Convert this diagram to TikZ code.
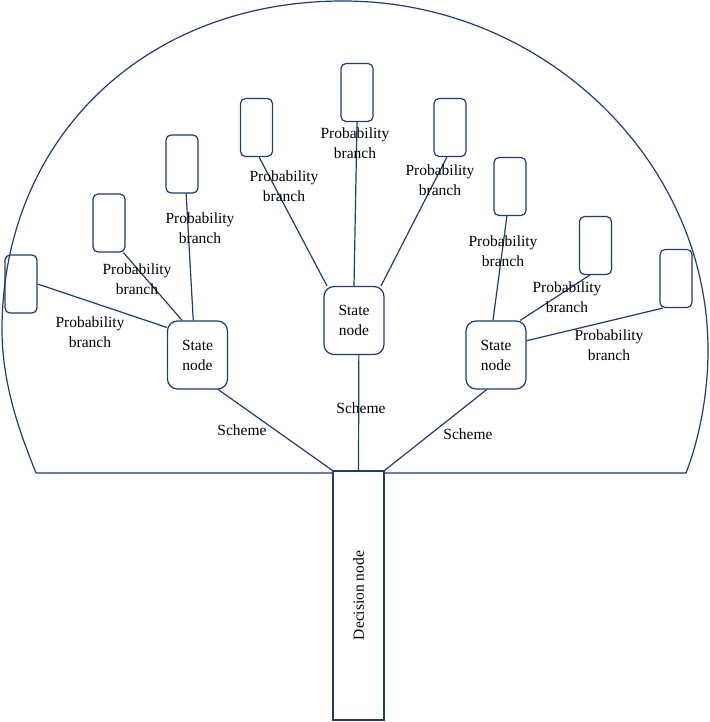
\documentclass[tikz,border=0pt]{standalone}
\usepackage{fontspec}
\setmainfont{Liberation Serif}
\definecolor{treeblue}{RGB}{30,58,120}
\begin{document}
\begin{tikzpicture}[x=1pt, y=-1pt, line width=1.2pt, draw=treeblue,
  leaf/.style={draw=treeblue, rounded corners=5pt, minimum width=32pt, minimum height=58pt, inner sep=0pt},
  state/.style={draw=treeblue, rounded corners=10pt, minimum width=60pt, minimum height=68pt, align=center, inner sep=0pt},
  lbl/.style={align=center, inner sep=0pt, font=\fontsize{15.5}{20}\selectfont}]
\useasboundingbox (0,0) rectangle (709,722);
% outer dome
\draw[treeblue] (36,473) .. controls (25,445) and (2,390) .. (2,330)
  .. controls (2,140) and (143,1) .. (343,1)
  .. controls (543,1) and (708,160) .. (708,350)
  .. controls (708,400) and (697,445) .. (686,473) -- cycle;
% decision and state nodes
\node[draw=treeblue, fill=white, minimum width=51pt, minimum height=249pt, inner sep=0pt] (dec) at (358.5,595.5) {};
\node[lbl, rotate=90] at (dec.center) {Decision node};
\node[state, font=\fontsize{15.5}{20}\selectfont] (s1) at (197.5,355) {State\\node};
\node[state, font=\fontsize{15.5}{20}\selectfont] (s2) at (354,320.5) {State\\node};
\node[state, font=\fontsize{15.5}{20}\selectfont] (s3) at (496,355) {State\\node};
% leaves
\node[leaf] (b1) at (21,284) {};
\node[leaf] (b2) at (109,223) {};
\node[leaf] (b3) at (182,164) {};
\node[leaf] (b4) at (256.5,127.5) {};
\node[leaf] (b5) at (357,92.5) {};
\node[leaf] (b6) at (450,127.5) {};
\node[leaf] (b7) at (510,186.5) {};
\node[leaf] (b8) at (595.5,245.5) {};
\node[leaf] (b9) at (676,278.5) {};
% probability branches
\draw[treeblue] (b1.east) -- (s1.138);
\draw[treeblue] (b2.-64) -- (s1.114);
\draw[treeblue] (b3.-82) -- (s1.97);
\draw[treeblue] (b4.-85) -- (s2.128);
\draw[treeblue] (b5.south) -- (s2.north);
\draw[treeblue] (b6.-96) -- (s2.52);
\draw[treeblue] (b7.-96) -- (s3.95);
\draw[treeblue] (b8.-101) -- (s3.55);
\draw[treeblue] (b9.-114) -- (s3.25);
% schemes
\draw[treeblue] (s1.-59) -- (dec.north west);
\draw[treeblue] (s2.-82) -- (dec.north);
\draw[treeblue] (s3.-105) -- (dec.north east);
% labels
\node[lbl] (p1) at (90,332) {Probability\\branch};
\node[lbl] (p2) at (137,279) {Probability\\branch};
\node[lbl] (p3) at (200,228) {Probability\\branch};
\node[lbl] (p4) at (284,186) {Probability\\branch};
\node[lbl] (p5) at (355,143) {Probability\\branch};
\node[lbl] (p6) at (440,180) {Probability\\branch};
\node[lbl] (p7) at (503,251) {Probability\\branch};
\node[lbl] (p8) at (567,297) {Probability\\branch};
\node[lbl] (p9) at (609,345) {Probability\\branch};
\node[lbl] (c1) at (242,430) {Scheme};
\node[lbl] (c2) at (361,408) {Scheme};
\node[lbl] (c3) at (468,434) {Scheme};
\end{tikzpicture}
\end{document}
